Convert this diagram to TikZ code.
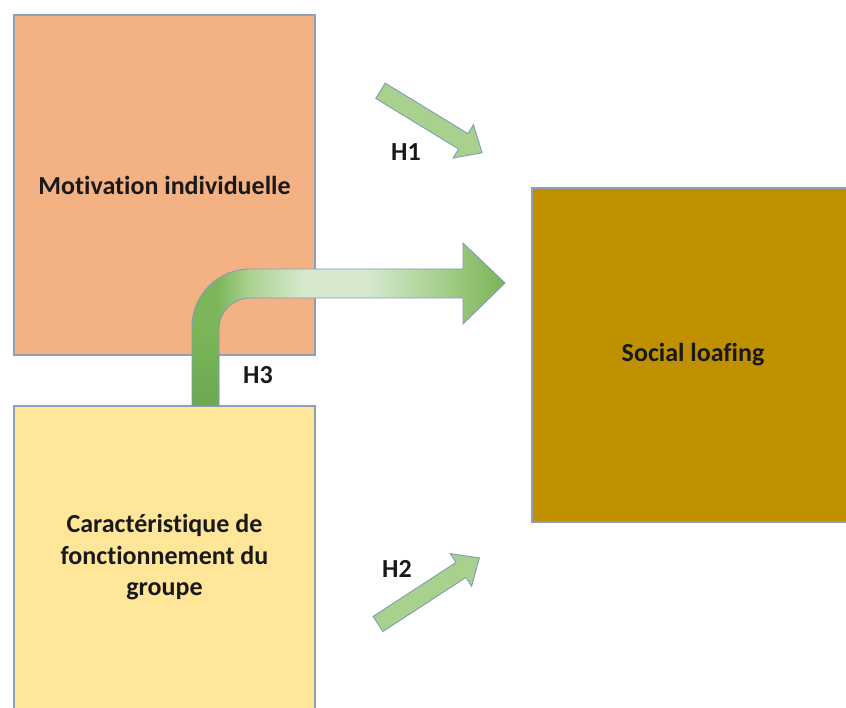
\documentclass[tikz,border=0pt]{standalone}
\usepackage{fontspec}
\setmainfont{Carlito}[Ligatures=NoCommon]
\definecolor{boxline}{HTML}{8EA0B8}
\definecolor{motiv}{HTML}{F4B183}
\definecolor{groupe}{HTML}{FFE699}
\definecolor{loafing}{HTML}{BF9000}
\definecolor{arrowfill}{HTML}{A9D18E}
\definecolor{arrowline}{HTML}{7F9DB9}
\definecolor{gdark}{HTML}{6AA84F}
\definecolor{gmid}{HTML}{7CB659}
\definecolor{gsoft}{HTML}{A9D18F}
\definecolor{glight}{HTML}{D6E9CF}
\definecolor{ghead}{HTML}{7AB457}
% gradient along the bent arrow: the path spans 25bp..75bp
\pgfdeclarehorizontalshading{bentshade}{100bp}{%
  color(0bp)=(gmid); color(25bp)=(gmid); color(29bp)=(gmid);
  color(34bp)=(gsoft); color(43bp)=(glight); color(53bp)=(glight);
  color(64bp)=(gsoft); color(75bp)=(ghead); color(100bp)=(ghead)}
\begin{document}
\begin{tikzpicture}[x=1pt,y=-1pt,
  box/.style={draw=boxline, line width=1.2pt, align=center, inner sep=0pt,
    font=\fontsize{26}{31.5}\selectfont\bfseries, text=black!90},
  lbl/.style={font=\fontsize{26}{30}\selectfont\bfseries, text=black!90, inner sep=0pt},
  blockarrow/.style={fill=arrowfill, draw=arrowline, line width=0.9pt, line join=miter}]

\useasboundingbox (0,0) rectangle (846,708);

% boxes
\node[box, fill=motiv, minimum width=301pt, minimum height=340pt] (motiv) at (164.5,185) {Motivation individuelle};
\node[box, fill=groupe, minimum width=301pt, minimum height=303pt] (groupe) at (164.5,557.5) {Caract\'eristique de\\fonctionnement du\\groupe};
\node[box, fill=loafing, minimum width=322pt, minimum height=334pt] (loafing) at (693,355) {Social loafing};

% H3: bent arrow from the group box towards social loafing
\def\bentarrow{(192,406) -- (192,327) .. controls (192,295) and (218,269) .. (250,269)
  -- (463,269) -- (463,243) -- (505,283) -- (463,324) -- (463,298) -- (250,298)
  .. controls (233,298) and (219,312) .. (219,329) -- (219,406) -- cycle}
\begin{scope}
  \clip \bentarrow;
  \shade[shading=bentshade] (192,240) rectangle (505,410);
  \shade[top color=gmid, bottom color=gdark] (188,325) rectangle (224,410);
\end{scope}
\draw[arrowline, line width=0.9pt, line join=miter] \bentarrow;

% H1
\begin{scope}[shift={(380.5,90.8)}, rotate=-31.4]
  \draw[blockarrow] (0,-9) -- (97,-9) -- (97,-19.5) -- (119,0) -- (97,19.5) -- (97,9) -- (0,9) -- cycle;
\end{scope}
% H2
\begin{scope}[shift={(378,624)}, rotate=33.1]
  \draw[blockarrow] (0,-9) -- (99,-9) -- (99,-19.5) -- (121,0) -- (99,19.5) -- (99,9) -- (0,9) -- cycle;
\end{scope}

\node[lbl] (h1) at (406,152) {H1};
\node[lbl] (h2) at (397,569) {H2};
\node[lbl] (h3) at (258,375) {H3};
\end{tikzpicture}
\end{document}
